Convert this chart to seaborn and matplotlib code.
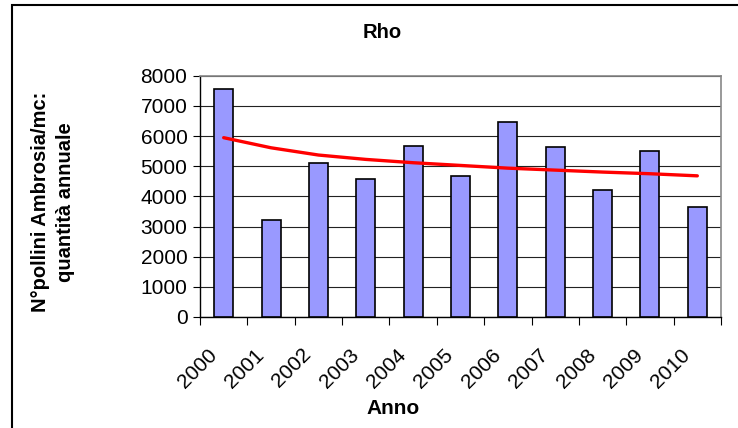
import matplotlib
matplotlib.use("Agg")
import matplotlib.pyplot as plt
import matplotlib.transforms as mtransforms
from matplotlib.patches import Rectangle
import numpy as np
import seaborn as sns

# ==========================================
# Dati
# ==========================================
anni = ['2000', '2001', '2002', '2003', '2004', '2005',
        '2006', '2007', '2008', '2009', '2010']
pollini = [7550, 3220, 5090, 4570, 5680, 4680, 6480, 5640, 4200, 5510, 3660]
tendenza = [5945, 5610, 5370, 5225, 5115, 5025, 4935, 4870, 4805, 4750, 4680]

titolo = "Rho"
etichetta_x = "Anno"
etichetta_y = "N°pollini Ambrosia/mc:\nquantità annuale"

# ==========================================
# Stile
# ==========================================
sns.set_theme(style="white")
plt.rcParams['font.family'] = ['Liberation Sans', 'DejaVu Sans']
for k in ['text.color', 'axes.labelcolor', 'xtick.color', 'ytick.color']:
    plt.rcParams[k] = 'black'

fig = plt.figure(figsize=(7.38, 4.28), dpi=100)
W, H = 738, 428
ax = fig.add_axes([200 / W, 1 - 317 / H, 521 / W, (317 - 75.7) / H])

# barre
sns.barplot(x=anni, y=pollini, color='#9999FF', saturation=1, width=0.4,
            edgecolor='black', linewidth=1.2, ax=ax, zorder=3)

# linea di tendenza
sns.lineplot(x=np.arange(len(anni)), y=tendenza, color='#FF0000',
             linewidth=2.4, ax=ax, zorder=4)

ax.set_xlim(-0.5, len(anni) - 0.5)
ax.set_ylim(0, 8000)
ax.set_yticks(np.arange(0, 8001, 1000))
ax.yaxis.grid(True, color='#222222', linewidth=0.8)
ax.set_axisbelow(True)

# tick sugli assi come in Excel
ax.tick_params(axis='y', which='major', left=True, length=5, width=0.8,
               color='black', labelsize=15, pad=4)
ax.set_xticks(np.arange(len(anni)))
ax.set_xticks(np.arange(-0.5, len(anni), 1.0), minor=True)
ax.tick_params(axis='x', which='minor', bottom=True, length=6, width=0.8,
               color='black')
ax.tick_params(axis='x', which='major', bottom=False, length=0,
               labelsize=15, pad=25)
ax.set_xticklabels(anni, rotation=45, ha='right', va='center',
                   rotation_mode='anchor')
offset = mtransforms.ScaledTranslation(-10 / 100, 0, fig.dpi_scale_trans)
for lab in ax.get_xticklabels():
    lab.set_transform(lab.get_transform() + offset)

for side in ['left', 'bottom']:
    ax.spines[side].set_color('black')
    ax.spines[side].set_linewidth(1.0)
for side in ['top', 'right']:
    ax.spines[side].set_visible(True)
    ax.spines[side].set_color('#888888')
    ax.spines[side].set_linewidth(1.2)

ax.set_xlabel('')
ax.set_ylabel('')

# testi
fig.text(382 / W, 1 - 33 / H, titolo, ha='center', va='center',
         fontsize=14.5, fontweight='bold')
fig.text(393 / W, 1 - 409 / H, etichetta_x, ha='center', va='center',
         fontsize=15, fontweight='bold')
fig.text(53 / W, 1 - 202 / H, etichetta_y, ha='center', va='center',
         rotation=90, fontsize=14.5, fontweight='bold', linespacing=1.4)

# bordo esterno del grafico
fig.patches.append(Rectangle((12 / W, -0.1), 1.2, 1 - 5 / H + 0.1,
                             transform=fig.transFigure, fill=False,
                             edgecolor='black', linewidth=1.5))

fig.savefig('out.png', dpi=100)
